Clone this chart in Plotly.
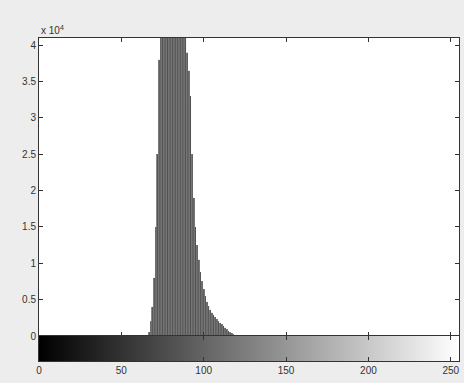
import plotly.graph_objects as go

# gray levels and pixel counts (imhist-style histogram)
levels = list(range(66, 122))
counts = [
    0, 500, 2000, 4000, 8000, 15000, 25000, 38000,            # 66-73
    46000, 52000, 58000, 63000, 66000, 68000, 69000, 68000,   # 74-81
    66000, 63000, 60000, 57000, 54000, 51000, 48000, 42000,   # 82-89
    39000, 36500, 33000, 25000, 19000, 15000, 12500, 10500,   # 90-97
    8800, 7500, 6400, 5500, 4700, 4100, 3600, 3200,           # 98-105
    2900, 2600, 2300, 2000, 1800, 1600, 1400, 1150,           # 106-113
    900, 700, 500, 350, 220, 120, 60, 20,                     # 114-121
]
y_tickvals = [0, 5000, 10000, 15000, 20000, 25000, 30000, 35000, 40000]
y_ticktext = ["0", "0.5", "1", "1.5", "2", "2.5", "3", "3.5", "4"]
x_tickvals = [0, 50, 100, 150, 200, 250]
x_ticktext = ["0", "50", "100", "150", "200", "250"]
bar_levels = list(range(0, 256))

fig = go.Figure()
# gray body of the histogram
fig.add_trace(go.Bar(x=levels, y=counts, width=1.0,
                     marker=dict(color="#8a8a8a", line=dict(width=0)),
                     xaxis="x", yaxis="y", hoverinfo="skip", showlegend=False))
# stems
sx, sy = [], []
for lv, c in zip(levels, counts):
    sx += [lv, lv, None]
    sy += [0, c, None]
fig.add_trace(go.Scatter(x=sx, y=sy, mode="lines",
                         line=dict(color="#3a3a3a", width=0.7),
                         xaxis="x", yaxis="y", hoverinfo="skip", showlegend=False))
fig.add_trace(go.Heatmap(x=bar_levels, y=[0], z=[bar_levels],
                         colorscale=[[0, "black"], [1, "white"]],
                         showscale=False, xaxis="x2", yaxis="y2"))

font = dict(family="Liberation Sans, Arial, sans-serif", size=10, color="#333333")
main_dom = [25 / 323, 1]
common = dict(showgrid=False, zeroline=False, automargin=False,
              tickcolor="#333", ticklen=4, linecolor="#333", linewidth=1)
fig.update_layout(
    width=464, height=383,
    margin=dict(l=39, r=5, t=38, b=22),
    paper_bgcolor="#ededed", plot_bgcolor="white",
    font=font, showlegend=False, bargap=0,
    xaxis=dict(domain=[0, 1], range=[0, 255], anchor="y",
               tickvals=x_tickvals, showticklabels=False,
               ticks="inside", showline=True, mirror="ticks", **common),
    yaxis=dict(domain=main_dom, range=[0, 41000], anchor="x",
               tickvals=y_tickvals, ticktext=y_ticktext,
               ticks="inside", showline=True, mirror="ticks", **common),
    xaxis2=dict(domain=[0, 1], range=[0, 255], anchor="y2",
                tickvals=x_tickvals, ticktext=x_ticktext,
                ticks="inside", showline=True, mirror="ticks", **common),
    yaxis2=dict(domain=[0, 25 / 323], range=[-0.5, 0.5], anchor="x2",
                showticklabels=False, ticks="",
                showline=True, mirror=True, **common),
    annotations=[dict(text="x 10<sup>4</sup>", xref="paper", yref="paper",
                      x=0.0, y=1.0, xanchor="left", yanchor="bottom",
                      showarrow=False, font=dict(size=10, color="#333"))],
)

fig.write_html("out.html", config={"displayModeBar": False},
               post_script="document.body.style.margin='0';document.body.style.padding='0';")
